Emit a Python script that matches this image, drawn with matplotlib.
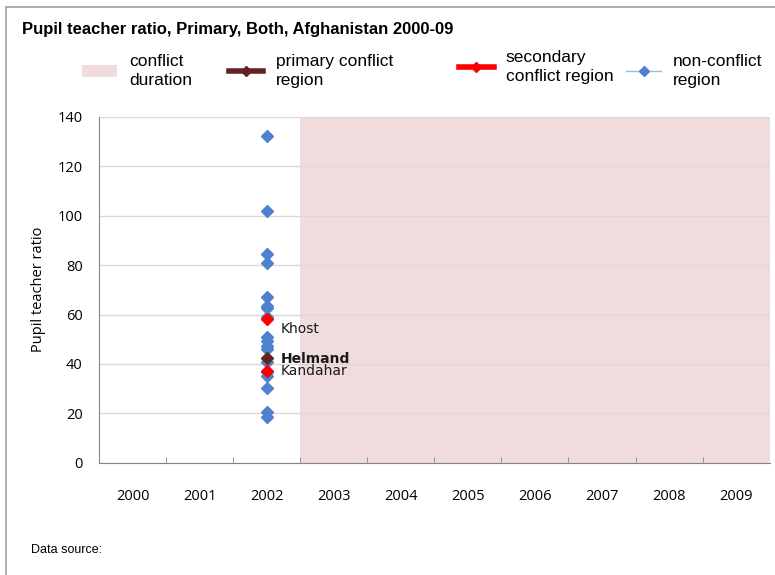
import matplotlib
matplotlib.use("Agg")
import matplotlib.pyplot as plt
from matplotlib.lines import Line2D
from matplotlib.patches import Patch, Rectangle

years = ["2000", "2001", "2002", "2003", "2004", "2005", "2006", "2007", "2008", "2009"]
conflict_start = "2003"

# non-conflict regions, 2002
nonconf_year = "2002"
nonconf_vals = [132.3, 101.8, 84.3, 80.7, 67.1, 63.5, 62.5, 59.2, 51.0, 49.1,
                47.1, 46.0, 41.0, 36.7, 35.2, 30.1, 20.4, 18.4]

primary_names = ["Helmand"]
primary_vals = [42.6]

secondary_names = ["Khost", "Kandahar"]
secondary_vals = [58.0, 37.0]

c_blue = "#4F81CF"
c_primary = "#632523"
c_secondary = "#FF0000"
c_shade = "#F0DCDC"
c_grid = "#D9D9D9"

tick_font = "Open Sans"
text_font = "Liberation Sans"

fig = plt.figure(figsize=(7.75, 5.75), dpi=100)
ax = fig.add_axes([0.128, 0.195, 0.865, 0.602])

xi = {y: i for i, y in enumerate(years)}

# conflict shading
ax.axvspan(xi[conflict_start] - 0.5, len(years) - 0.5, color=c_shade, lw=0, zorder=0)

ax.plot([xi[nonconf_year]] * len(nonconf_vals), nonconf_vals, ls="none",
        marker="D", ms=6.3, color=c_blue, zorder=3)
ax.plot([xi[nonconf_year]] * len(secondary_vals), secondary_vals, ls="none",
        marker="D", ms=6.3, color=c_secondary, zorder=4)
ax.plot([xi[nonconf_year]] * len(primary_vals), primary_vals, ls="none",
        marker="D", ms=6.3, color=c_primary, zorder=5)

label_offsets = {"Khost": (10, -7), "Kandahar": (10, 0), "Helmand": (10, -1)}
for name, v in zip(secondary_names, secondary_vals):
    ax.annotate(name, (xi[nonconf_year], v), xytext=label_offsets[name],
                textcoords="offset points", va="center", ha="left",
                fontsize=10, family="DejaVu Sans", color="#1a1a1a", zorder=6)
for name, v in zip(primary_names, primary_vals):
    ax.annotate(name, (xi[nonconf_year], v), xytext=label_offsets[name],
                textcoords="offset points", va="center", ha="left",
                fontsize=10, family="DejaVu Sans", fontweight="bold",
                color="#1a1a1a", zorder=6)

ax.set_xlim(-0.5, len(years) - 0.5)
ax.set_ylim(0, 140)
ax.set_yticks(range(0, 141, 20))
ax.set_xticks(range(len(years)))
ax.set_xticklabels(years)
ax.set_xticks([i + 0.5 for i in range(len(years) - 1)], minor=True)
ax.tick_params(axis="x", which="major", length=0, pad=19)
ax.tick_params(axis="x", which="minor", direction="in", length=4, color="#868686")
ax.tick_params(axis="y", length=0, pad=12)
for lab in ax.get_xticklabels() + ax.get_yticklabels():
    lab.set_family(tick_font)
    lab.set_fontsize(10.5)
ax.grid(axis="y", color=c_grid, lw=1)
ax.set_axisbelow(True)
for s in ["top", "right"]:
    ax.spines[s].set_visible(False)
for s in ["left", "bottom"]:
    ax.spines[s].set_color("#868686")
ax.set_ylabel("Pupil teacher ratio", family=tick_font, fontsize=10.5, labelpad=8)

# outer frame
fig.patches.append(Rectangle((0.008, -0.05), 1.1, 1.038, transform=fig.transFigure,
                             fill=False, ec="#A0A0A0", lw=1.2))

fig.text(0.028, 0.948, "Pupil teacher ratio, Primary, Both, Afghanistan 2000-09",
         family=text_font, fontweight="bold", fontsize=12, va="center")
fig.text(0.04, 0.043, "Data source:", family=text_font, fontsize=9, va="center")

# legend, one block per entry
entries = [
    (Patch(facecolor=c_shade, edgecolor="none"), "conflict\nduration", 0.106, 0.877),
    (Line2D([], [], color=c_primary, lw=4, marker="D", ms=5), "primary conflict\nregion", 0.295, 0.877),
    (Line2D([], [], color=c_secondary, lw=4, marker="D", ms=5), "secondary\nconflict region", 0.592, 0.883),
    (Line2D([], [], color="#9DB9E3", lw=1, marker="D", ms=5, mfc=c_blue, mec=c_blue), "non-conflict\nregion", 0.808, 0.877),
]
for h, lab, x, y in entries:
    leg = fig.legend([h], [lab], loc="center left", bbox_to_anchor=(x, y),
                     frameon=False, borderpad=0, borderaxespad=0, handlelength=2.0,
                     handletextpad=0.7, prop={"family": text_font, "size": 12.5})
    for t in leg.get_texts():
        t.set_linespacing(1.3)

fig.savefig("out.png", dpi=100)
